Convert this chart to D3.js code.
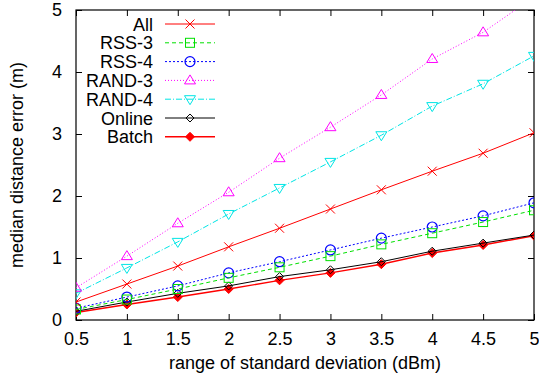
<!DOCTYPE html>
<html><head><meta charset="utf-8">
<script src="https://cdn.jsdelivr.net/npm/d3@7"></script>
<style>body{margin:0;background:#fff}svg{display:block}text{font-family:"Liberation Sans",Arial,sans-serif}</style>
</head><body><svg id="c" width="539" height="381"></svg>
<script>
const xValues = [0.5,1,1.5,2,2.5,3,3.5,4,4.5,5];
const xTicks = [0.5,1,1.5,2,2.5,3,3.5,4,4.5,5];
const yTicks = [0,1,2,3,4,5];
const seriesNames = ["All","RSS-3","RSS-4","RAND-3","RAND-4","Online","Batch"];
const allVals   = [0.29,0.58,0.87,1.18,1.48,1.79,2.10,2.40,2.69,3.02];
const rss3Vals  = [0.17,0.33,0.50,0.68,0.85,1.03,1.22,1.40,1.58,1.77];
const rss4Vals  = [0.19,0.37,0.55,0.76,0.94,1.13,1.32,1.50,1.68,1.89];
const rand3Vals = [0.52,1.03,1.56,2.06,2.61,3.11,3.63,4.21,4.64,5.21];
const rand4Vals = [0.43,0.84,1.26,1.71,2.13,2.55,2.98,3.45,3.81,4.26];
const onlineVals= [0.14,0.29,0.43,0.55,0.70,0.81,0.94,1.11,1.24,1.37];
const batchVals = [0.12,0.25,0.37,0.50,0.64,0.76,0.90,1.08,1.21,1.36];
const seriesVals = [allVals,rss3Vals,rss4Vals,rand3Vals,rand4Vals,onlineVals,batchVals];

const styles = [
  {color:"#ff0000", dash:null, marker:"x"},
  {color:"#00e000", dash:"4,3", marker:"square"},
  {color:"#0000ff", dash:"2,2", marker:"circle"},
  {color:"#ff00ff", dash:"1,2", marker:"tri"},
  {color:"#00e5e5", dash:"6,2,1,2", marker:"tridown"},
  {color:"#000000", dash:null, marker:"diamond"},
  {color:"#ff0000", dash:null, marker:"fdiamond"}
];

const svg = d3.select("#c");
const L=76, R=534, T=10, B=320;
const x = d3.scaleLinear().domain([0.5,5]).range([L,R]);
const y = d3.scaleLinear().domain([0,5]).range([B,T]);

svg.append("defs").append("clipPath").attr("id","clip")
  .append("rect").attr("x",L).attr("y",T).attr("width",R-L).attr("height",B-T);

const fs = 18;
const gBottom = svg.append("g").attr("transform",`translate(0,${B})`)
  .call(d3.axisBottom(x).tickValues(xTicks).tickSize(-6).tickPadding(12).tickFormat(d3.format("")));
const gTop = svg.append("g").attr("transform",`translate(0,${T})`)
  .call(d3.axisTop(x).tickValues(xTicks).tickSize(-6).tickFormat(""));
const gLeft = svg.append("g").attr("transform",`translate(${L},0)`)
  .call(d3.axisLeft(y).tickValues(yTicks).tickSize(-6).tickPadding(14).tickFormat(d3.format("d")));
const gRight = svg.append("g").attr("transform",`translate(${R},0)`)
  .call(d3.axisRight(y).tickValues(yTicks).tickSize(-6).tickFormat(""));
[gBottom,gTop,gLeft,gRight].forEach(g=>{
  g.select(".domain").remove();
  g.selectAll("line").attr("stroke","#000");
  g.selectAll("text").attr("font-size",fs).attr("fill","#000").attr("font-family","Liberation Sans, Arial, sans-serif");
});
svg.append("rect").attr("x",L).attr("y",T).attr("width",R-L).attr("height",B-T)
  .attr("fill","none").attr("stroke","#000").attr("stroke-width",1.2);

svg.append("text").attr("x",(L+R)/2).attr("y",369).attr("text-anchor","middle")
  .attr("font-size",18).text("range of standard deviation (dBm)");
svg.append("text").attr("transform",`translate(23,${(T+B)/2}) rotate(-90)`).attr("text-anchor","middle")
  .attr("font-size",18).text("median distance error (m)");

function drawMarker(g, type, cx, cy, color){
  const s=4.5;
  if(type==="x"){
    g.append("path").attr("d",`M${cx-s},${cy-s}L${cx+s},${cy+s}M${cx-s},${cy+s}L${cx+s},${cy-s}`)
      .attr("stroke",color).attr("fill","none").attr("stroke-width",1);
  } else if(type==="square"){
    g.append("rect").attr("x",cx-4.5).attr("y",cy-4.5).attr("width",9).attr("height",9)
      .attr("stroke",color).attr("fill","none").attr("stroke-width",1);
  } else if(type==="circle"){
    g.append("circle").attr("cx",cx).attr("cy",cy).attr("r",5)
      .attr("stroke",color).attr("fill","none").attr("stroke-width",1.2);
  } else if(type==="tri"){
    g.append("path").attr("d",`M${cx},${cy-5.5}L${cx+5.5},${cy+3.5}L${cx-5.5},${cy+3.5}Z`)
      .attr("stroke",color).attr("fill","none").attr("stroke-width",1);
  } else if(type==="tridown"){
    g.append("path").attr("d",`M${cx},${cy+5.5}L${cx+5.5},${cy-3.5}L${cx-5.5},${cy-3.5}Z`)
      .attr("stroke",color).attr("fill","none").attr("stroke-width",1);
  } else if(type==="diamond"){
    g.append("path").attr("d",`M${cx},${cy-4}L${cx+4},${cy}L${cx},${cy+4}L${cx-4},${cy}Z`)
      .attr("stroke",color).attr("fill","none").attr("stroke-width",1);
  } else if(type==="fdiamond"){
    g.append("path").attr("d",`M${cx},${cy-4.5}L${cx+4.5},${cy}L${cx},${cy+4.5}L${cx-4.5},${cy}Z`)
      .attr("stroke",color).attr("fill",color).attr("stroke-width",1);
  }
}

const line = d3.line().x(d=>x(d[0])).y(d=>y(d[1]));
const plot = svg.append("g").attr("clip-path","url(#clip)");
for(let i=seriesNames.length-1;i>=0;i--){
  const st = styles[i];
  const pts = xValues.map((v,j)=>[v,seriesVals[i][j]]);
  plot.append("path").datum(pts).attr("d",line).attr("fill","none")
    .attr("stroke",st.color).attr("stroke-width", i===6?1.4:1)
    .attr("stroke-dasharray",st.dash);
  const mg = plot.append("g");
  pts.forEach(p=>drawMarker(mg, st.marker, x(p[0]), y(p[1]), st.color));
}

const lg = svg.append("g");
seriesNames.forEach((n,i)=>{
  const ly = 24 + i*18.8;
  const st = styles[i];
  lg.append("text").attr("x",153).attr("y",ly+6.5).attr("text-anchor","end").attr("font-size",18).text(n);
  lg.append("line").attr("x1",165).attr("x2",215).attr("y1",ly).attr("y2",ly)
    .attr("stroke",st.color).attr("stroke-width", i===6?1.4:1).attr("stroke-dasharray",st.dash);
  drawMarker(lg, st.marker, 190, ly, st.color);
});
</script></body></html>
